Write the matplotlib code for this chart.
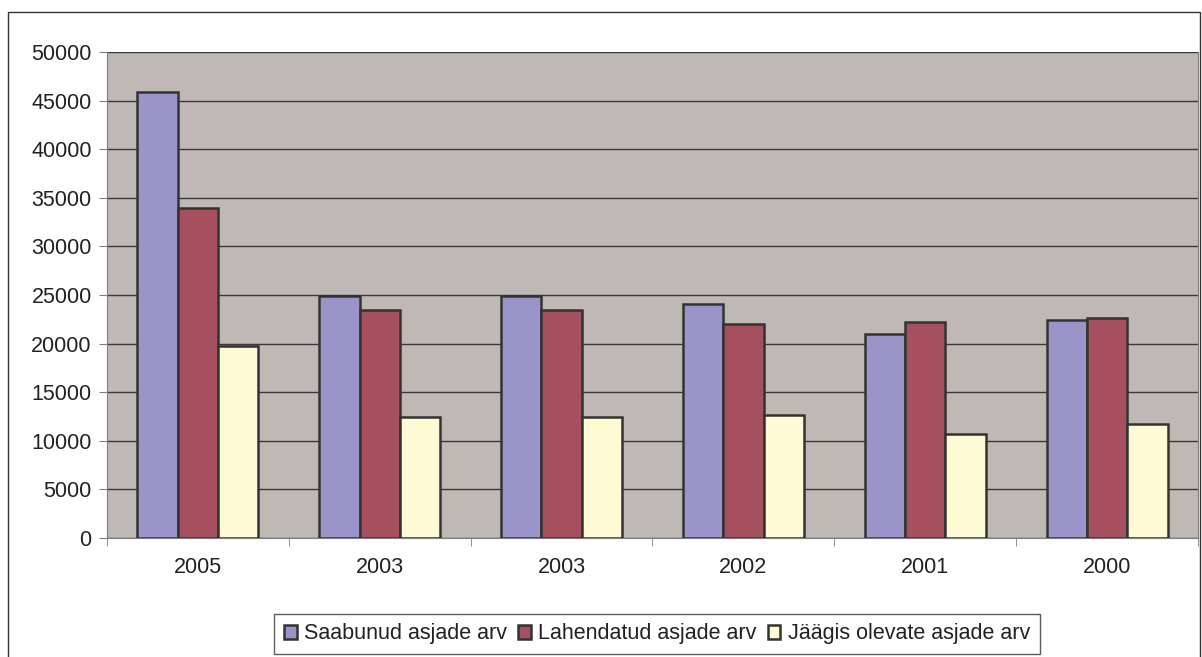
import numpy as np
import matplotlib
matplotlib.use("Agg")
import matplotlib.pyplot as plt
from matplotlib.patches import Rectangle
from matplotlib.ticker import FixedLocator, NullFormatter

plt.rcParams['font.family'] = ['Liberation Sans', 'DejaVu Sans']

# data
years = ['2005', '2003', '2003', '2002', '2001', '2000']
saabunud = [45900, 24900, 24900, 24100, 21000, 22400]
lahendatud = [34000, 23500, 23500, 22000, 22200, 22600]
jaagis = [19800, 12500, 12500, 12700, 10700, 11700]
labels = ['Saabunud asjade arv', 'Lahendatud asjade arv', 'Jäägis olevate asjade arv']
colors = ['#9B94C8', '#A6505F', '#FFFAD6']

fig = plt.figure(figsize=(12.02, 6.57), dpi=100)
ax = fig.add_axes([107 / 1202, 1 - 538 / 657, (1198 - 107) / 1202, (538 - 52) / 657])
ax.set_facecolor('#C0B8B5')

x = np.arange(len(years))
w = 0.222
for i, (vals, lab, col) in enumerate(zip([saabunud, lahendatud, jaagis], labels, colors)):
    ax.bar(x + (i - 1) * w, vals, width=w, color=col, edgecolor='#333333',
           linewidth=1.8, label=lab, zorder=3)

ax.set_xlim(-0.5, len(years) - 0.5)
ax.set_ylim(0, 50000)
ax.set_yticks(np.arange(0, 50001, 5000))
ax.yaxis.grid(True, color='#3a3a3a', linewidth=1, zorder=1)
ax.set_xticks(x)
ax.set_xticklabels(years)
ax.xaxis.set_minor_locator(FixedLocator(np.arange(-0.5, len(years), 1)))
ax.xaxis.set_minor_formatter(NullFormatter())
ax.tick_params(axis='x', which='major', length=0, pad=14, labelsize=15.5, labelcolor='#222222')
ax.tick_params(axis='x', which='minor', length=6, color='#808080')
ax.tick_params(axis='y', length=6, color='#808080', labelsize=15.5, pad=5, labelcolor='#222222')
for s in ['left', 'bottom', 'right']:
    ax.spines[s].set_color('#808080')
ax.spines['top'].set_visible(False)

leg = fig.legend(loc='center', bbox_to_anchor=(657 / 1202, 1 - 634 / 657), ncol=3,
                 fontsize=15.5, frameon=True, fancybox=False, edgecolor='#333333',
                 handlelength=0.6, handleheight=0.6, handletextpad=0.35,
                 columnspacing=0.5, borderpad=0.45, borderaxespad=0)
leg.get_frame().set_linewidth(1)
for t in leg.get_texts():
    t.set_color('#222222')

fig.patches.append(Rectangle((8 / 1202, -0.05), (1200 - 8) / 1202, 1 - 12 / 657 + 0.05,
                             transform=fig.transFigure, fill=False,
                             edgecolor='#333333', linewidth=1))

fig.savefig('out.png', dpi=100)
